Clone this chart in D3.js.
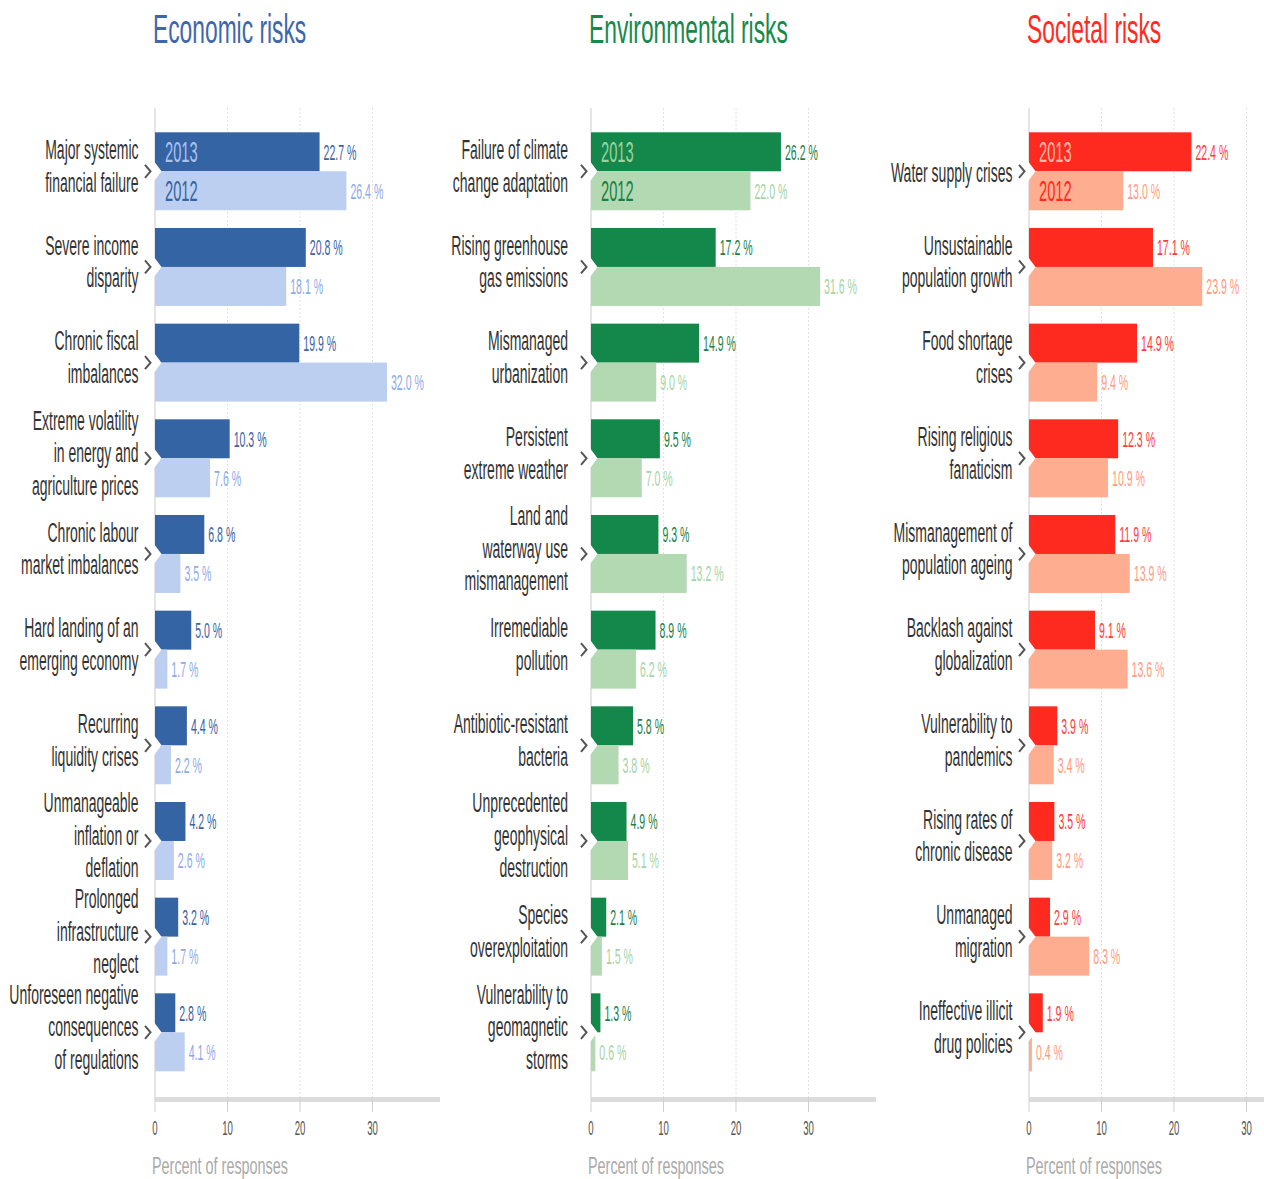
<!DOCTYPE html>
<html><head><meta charset="utf-8">
<script src="https://cdn.jsdelivr.net/npm/d3@7"></script>
<style>
body{margin:0;background:#fff}
svg{display:block}
text{font-family:"Liberation Sans",Arial,sans-serif}
</style>
</head><body>
<svg id="chart" width="1264" height="1179"></svg>
<script>
// ---------- DATA ----------
const years = ["2013", "2012"];
const xTicks = [0, 10, 20, 30];
const axisTitle = "Percent of responses";

const economicTitle = "Economic risks";
const economicRisks = [
  "Major systemic\nfinancial failure",
  "Severe income\ndisparity",
  "Chronic fiscal\nimbalances",
  "Extreme volatility\nin energy and\nagriculture prices",
  "Chronic labour\nmarket imbalances",
  "Hard landing of an\nemerging economy",
  "Recurring\nliquidity crises",
  "Unmanageable\ninflation or\ndeflation",
  "Prolonged\ninfrastructure\nneglect",
  "Unforeseen negative\nconsequences\nof regulations"
];
const economic2013 = [22.7, 20.8, 19.9, 10.3, 6.8, 5.0, 4.4, 4.2, 3.2, 2.8];
const economic2012 = [26.4, 18.1, 32.0, 7.6, 3.5, 1.7, 2.2, 2.6, 1.7, 4.1];

const environmentalTitle = "Environmental risks";
const environmentalRisks = [
  "Failure of climate\nchange adaptation",
  "Rising greenhouse\ngas emissions",
  "Mismanaged\nurbanization",
  "Persistent\nextreme weather",
  "Land and\nwaterway use\nmismanagement",
  "Irremediable\npollution",
  "Antibiotic-resistant\nbacteria",
  "Unprecedented\ngeophysical\ndestruction",
  "Species\noverexploitation",
  "Vulnerability to\ngeomagnetic\nstorms"
];
const environmental2013 = [26.2, 17.2, 14.9, 9.5, 9.3, 8.9, 5.8, 4.9, 2.1, 1.3];
const environmental2012 = [22.0, 31.6, 9.0, 7.0, 13.2, 6.2, 3.8, 5.1, 1.5, 0.6];

const societalTitle = "Societal risks";
const societalRisks = [
  "Water supply crises",
  "Unsustainable\npopulation growth",
  "Food shortage\ncrises",
  "Rising religious\nfanaticism",
  "Mismanagement of\npopulation ageing",
  "Backlash against\nglobalization",
  "Vulnerability to\npandemics",
  "Rising rates of\nchronic disease",
  "Unmanaged\nmigration",
  "Ineffective illicit\ndrug policies"
];
const societal2013 = [22.4, 17.1, 14.9, 12.3, 11.9, 9.1, 3.9, 3.5, 2.9, 1.9];
const societal2012 = [13.0, 23.9, 9.4, 10.9, 13.9, 13.6, 3.4, 3.2, 8.3, 0.4];

// ---------- STYLE / LAYOUT ----------
const panels = [
  {title: economicTitle, cats: economicRisks, v13: economic2013, v12: economic2012, x0: 155, xEnd: 440, labelGap: 16.5,
   c13: "#3564a5", c12: "#bccff0", t13: "#3a62a4", t12: "#8eaae6", tc: "#3e67ad",
   in13: "#aac1ee", in12: "#3564a5"},
  {title: environmentalTitle, cats: environmentalRisks, v13: environmental2013, v12: environmental2012, x0: 591, xEnd: 876, labelGap: 23,
   c13: "#14884a", c12: "#b2d9b1", t13: "#1a7f48", t12: "#a6d4a4", tc: "#17894b",
   in13: "#9fd09f", in12: "#1a8048"},
  {title: societalTitle, cats: societalRisks, v13: societal2013, v12: societal2012, x0: 1029, xEnd: 1314, labelGap: 16.5,
   c13: "#ff2a1f", c12: "#ffad90", t13: "#ff3b3b", t12: "#ff9b7e", tc: "#ff2b22",
   in13: "#ffbba6", in12: "#ff2a1f"}
];

const svg = d3.select("#chart");
const plotTop = 108, plotBottom = 1097;
const pxPerUnit = 7.25;

function sText(g, x, y, str, size, sx, fill, anchor) {
  return g.append("text")
    .attr("transform", `translate(${x},${y}) scale(${sx},1)`)
    .attr("font-size", size)
    .attr("fill", fill)
    .attr("text-anchor", anchor || "start")
    .text(str);
}

panels.forEach(p => {
  const g = svg.append("g");
  const x = d3.scaleLinear().domain([0, (p.xEnd - p.x0) / pxPerUnit]).range([p.x0, p.xEnd]);
  const y = d3.scaleBand().domain(p.cats).range([123.45, 1080.15]).paddingInner(0.185).paddingOuter(0.0925);
  const sub = d3.scaleBand().domain(years).range([0, y.bandwidth()]);

  // title
  sText(g, p.x0 - 2, 43, p.title, 40, 0.57, p.tc);

  // grid lines
  g.selectAll(".grid").data(xTicks.filter(t => t > 0)).join("line")
    .attr("x1", d => x(d)).attr("x2", d => x(d))
    .attr("y1", plotTop).attr("y2", plotBottom)
    .attr("stroke", "#e2e2e2").attr("stroke-dasharray", "2,2");
  // vertical axis line
  g.append("line").attr("x1", x(0)).attr("x2", x(0)).attr("y1", plotTop).attr("y2", plotBottom)
    .attr("stroke", "#dcdcdc").attr("stroke-width", 1.5);

  const rows = p.cats.map((c, i) => ({cat: c, v: {"2013": p.v13[i], "2012": p.v12[i]}, i}));

  rows.forEach(r => {
    const gy = y(r.cat);
    years.forEach(yr => {
      const v = r.v[yr];
      g.append("rect")
        .attr("x", x(0)).attr("y", gy + sub(yr))
        .attr("width", x(v) - x(0)).attr("height", sub.bandwidth())
        .attr("fill", yr === "2013" ? p.c13 : p.c12);
      const cy = gy + sub(yr) + sub.bandwidth() / 2;
      sText(g, x(v) + 4, cy + 8, d3.format(".1f")(v) + " %", 22, 0.48, yr === "2013" ? p.t13 : p.t12);
      if (r.i === 0) {
        sText(g, x(0) + 10, cy + 10.5, yr, 30, 0.49, yr === "2013" ? p.in13 : p.in12);
      }
    });
    const jy = gy + sub("2012");
    // notch
    g.append("path")
      .attr("d", `M${x(0) - 1},${jy - 10} L${x(0) + 6.5},${jy} L${x(0) - 1},${jy + 10} Z`)
      .attr("fill", "#fff");
    // chevron
    g.append("path")
      .attr("d", `M${x(0) - 10},${jy - 6.5} L${x(0) - 4.5},${jy} L${x(0) - 10},${jy + 6.5}`)
      .attr("fill", "none").attr("stroke", "#555").attr("stroke-width", 2);
    // label
    const lines = r.cat.split("\n");
    const lh = 32.5;
    const shift = lines.length > 1 ? -6 : 1;
    const c0 = jy + shift - (lines.length - 1) * lh / 2;
    lines.forEach((ln, k) => {
      sText(g, x(0) - p.labelGap, c0 + k * lh + 10, ln, 28, 0.5, "#333", "end");
    });
  });

  // bottom axis band
  g.append("rect").attr("x", x(0)).attr("y", 1097).attr("width", p.xEnd - p.x0).attr("height", 5).attr("fill", "#dcdcdc");
  g.selectAll(".tick").data(xTicks).join("line")
    .attr("x1", d => x(d)).attr("x2", d => x(d)).attr("y1", 1097).attr("y2", 1112)
    .attr("stroke", "#d0d0d0");
  xTicks.forEach(t => sText(g, x(t), 1135, String(t), 20, 0.48, "#555", "middle"));
  sText(g, x(0) - 3, 1174, axisTitle, 24, 0.6, "#aaa");
});
</script>
</body></html>
